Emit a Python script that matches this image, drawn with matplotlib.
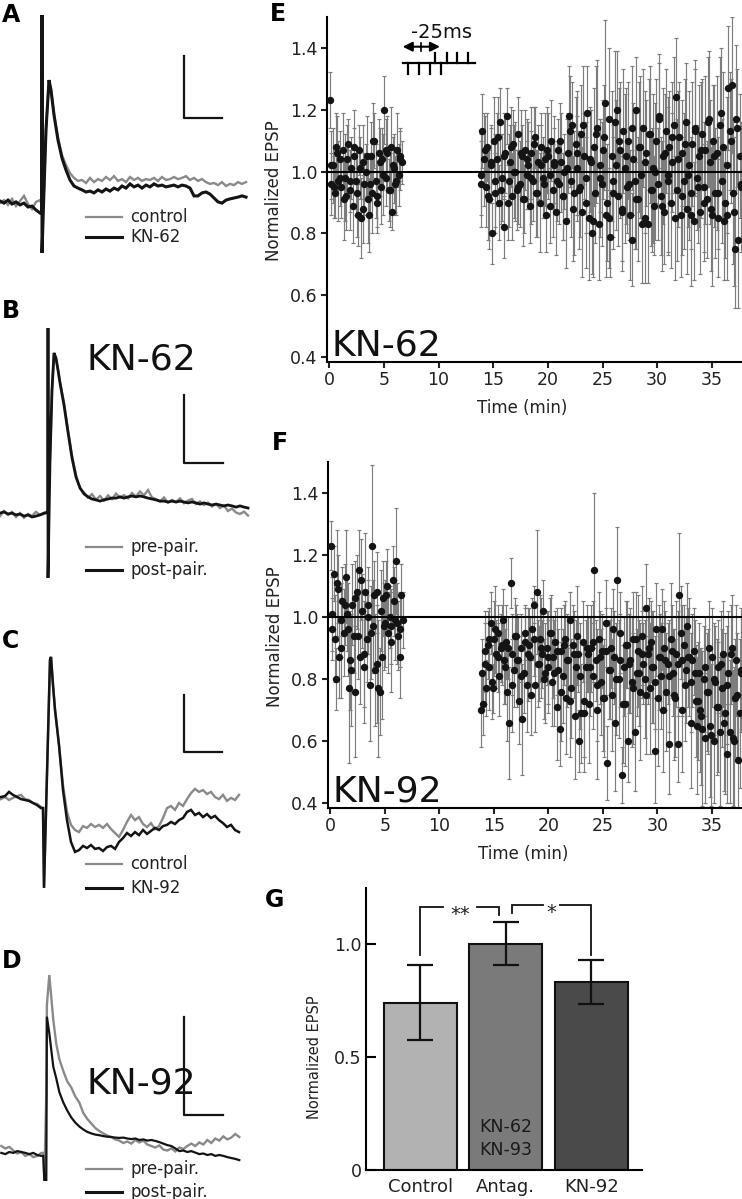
import numpy as np
import matplotlib
matplotlib.use('Agg')
import matplotlib.pyplot as plt
from matplotlib.lines import Line2D

plt.rcParams['font.family'] = 'DejaVu Sans'

W, H = 742, 1199

# ---------------- A-D: example EPSP traces (ms, mV above baseline) ----------------
A_T = list(range(-21, 0, 2)) + [0, 0, 0, 1, 2, 3.5, 4.5, 6] + list(range(8, 104, 2))
A_GRAY = [-0.07, 0.03, -0.13, 0.07, -0.17, 0.00, 0.17, -0.10, -0.27, -0.03, 0.03,
          -0.13, -0.13, -0.13,
          0.37, 2.37, 4.03, 3.70, 2.90,
          2.10, 1.53, 1.20, 0.93, 0.77, 0.67, 0.70, 0.60, 0.77, 0.63,
          0.73, 0.67, 0.80, 0.70, 0.83, 0.67, 0.73, 0.63, 0.80, 0.70,
          0.77, 0.67, 0.73, 0.70, 0.77, 0.67, 0.80, 0.70, 0.73, 0.80,
          0.73, 0.77, 0.83, 0.70, 0.77, 0.67, 0.73, 0.63, 0.57, 0.60,
          0.53, 0.63, 0.50, 0.57, 0.53, 0.63, 0.57, 0.63]
A_BLACK = [0.00, -0.07, 0.03, -0.10, -0.03, -0.13, -0.07, -0.20, -0.17, -0.30, -0.40,
           -0.37, 6.20, -1.73,
           0.37, 2.37, 4.03, 3.70, 2.87,
           2.03, 1.43, 1.03, 0.70, 0.50, 0.43, 0.37, 0.30, 0.33, 0.27,
           0.37, 0.30, 0.40, 0.33, 0.43, 0.37, 0.50, 0.43, 0.57, 0.47,
           0.53, 0.43, 0.53, 0.47, 0.57, 0.50, 0.53, 0.47, 0.50, 0.53,
           0.47, 0.53, 0.50, 0.43, 0.17, 0.17, 0.27, 0.30, 0.23, 0.10,
           -0.03, -0.07, 0.03, 0.07, 0.10, 0.13, 0.17, 0.13]

B_T = list(range(-24, 0, 2)) + [0, 0, 0, 1, 2, 3, 4, 5, 6] + list(range(8, 102, 2))
B_GRAY = [-0.07, 0.10, -0.03, 0.07, -0.10, 0.03, -0.13, 0.00, -0.07, 0.07, -0.03, 0.00,
          0.03, 0.03, 0.03,
          1.80, 4.13, 5.30, 5.15, 4.80, 4.40,
          3.70, 2.80, 1.95, 1.30, 0.85, 0.72, 0.55, 0.66, 0.48, 0.60,
          0.45, 0.62, 0.50, 0.68, 0.55, 0.63, 0.52, 0.70, 0.58, 0.75,
          0.62, 0.80, 0.55, 0.50, 0.42, 0.55, 0.38, 0.47, 0.40, 0.52,
          0.36, 0.45, 0.50, 0.33, 0.42, 0.30, 0.38, 0.25, 0.33, 0.20,
          0.28, 0.10, 0.18, 0.05, 0.00, 0.08, -0.05]
B_BLACK = [0.03, 0.07, 0.00, 0.03, -0.03, 0.00, -0.07, -0.03, -0.10, -0.07, -0.03, 0.03,
           0.07, 6.20, -2.13,
           1.80, 4.13, 5.37, 5.20, 4.80, 4.37,
           3.63, 2.73, 1.87, 1.23, 0.87, 0.67, 0.57, 0.50, 0.47, 0.43,
           0.47, 0.50, 0.53, 0.53, 0.57, 0.53, 0.57, 0.60, 0.57, 0.60,
           0.57, 0.53, 0.50, 0.47, 0.43, 0.43, 0.40, 0.43, 0.40, 0.43,
           0.40, 0.37, 0.40, 0.37, 0.33, 0.37, 0.33, 0.30, 0.33, 0.30,
           0.27, 0.30, 0.27, 0.23, 0.27, 0.23, 0.20]

C_T = list(range(-21, 0, 2)) + [0, 0.5, 3.5, 4, 5, 6] + list(range(8, 100, 2))
C_GRAY = [0.03, 0.10, 0.00, 0.07, 0.13, 0.17, 0.03, 0.00, -0.10, -0.13, -0.23,
          -0.27, -2.93, 4.67, 4.77, 3.85, 3.05,
          1.83, 0.50, -0.40, -0.83, -1.00, -1.07, -0.87, -0.93, -0.80, -0.90,
          -0.83, -0.93, -0.80, -0.97, -1.10, -1.23, -1.00, -0.73, -0.50, -0.67,
          -0.57, -0.80, -0.90, -0.77, -0.97, -0.87, -0.60, -0.27, -0.20, -0.33,
          -0.10, -0.20, 0.03, 0.23, 0.37, 0.27, 0.33, 0.20, 0.27, 0.10,
          0.03, 0.17, -0.03, 0.07, 0.00, 0.17]
C_BLACK = [0.10, 0.13, 0.27, 0.17, 0.10, 0.03, 0.00, -0.03, -0.10, -0.17, -0.27,
           -0.27, -2.93, 4.67, 4.77, 3.83, 3.00,
           1.83, 0.33, -0.67, -1.40, -1.73, -1.67, -1.53, -1.60, -1.50, -1.63,
           -1.60, -1.70, -1.57, -1.53, -1.63, -1.40, -1.27, -1.10, -1.20, -1.07,
           -1.17, -1.00, -1.13, -1.03, -0.93, -1.00, -0.87, -0.83, -0.73, -0.80,
           -0.67, -0.60, -0.40, -0.33, -0.50, -0.43, -0.57, -0.47, -0.60, -0.53,
           -0.67, -0.77, -0.90, -0.83, -1.00, -1.07]

D_T = list(range(-21, 0, 2)) + [0, 0.5, 1.5, 1.8, 3, 5, 6.5] + list(range(8, 100, 2))
D_GRAY = [0.30, 0.22, 0.27, 0.15, 0.05, 0.10, -0.03, 0.03, -0.07, -0.03, 0.07,
          0.07, -0.83, 2.00, 5.00, 6.00, 4.50, 3.70,
          3.20, 2.80, 2.45, 2.25, 1.95, 1.75, 1.40, 1.20, 1.05, 0.90,
          0.80, 0.72, 0.65, 0.60, 0.52, 0.48, 0.40, 0.45, 0.38, 0.50,
          0.42, 0.48, 0.35, 0.30, 0.25, 0.32, 0.18, 0.15, 0.22, 0.12,
          0.25, 0.20, 0.30, 0.38, 0.30, 0.42, 0.35, 0.50, 0.40, 0.55,
          0.48, 0.62, 0.52, 0.58, 0.70, 0.60]
D_BLACK = [0.07, 0.03, 0.10, 0.07, 0.13, 0.10, 0.07, 0.03, 0.07, 0.00, -0.03,
           -0.03, -0.83, -0.83, 4.61, 4.06, 2.94, 2.55,
           2.10, 1.75, 1.48, 1.25, 1.08, 0.95, 0.85, 0.77, 0.72, 0.68,
           0.66, 0.63, 0.61, 0.60, 0.58, 0.57, 0.58, 0.55, 0.53, 0.55,
           0.50, 0.52, 0.48, 0.50, 0.47, 0.43, 0.38, 0.33, 0.30, 0.22,
           0.13, 0.15, 0.10, 0.13, 0.08, 0.03, 0.05, 0.00, 0.03, -0.03,
           0.00, -0.03, -0.07, -0.10, -0.13, -0.17]

# ---------------- E, F: normalized EPSP time course ----------------
# two interleaved sets of sweeps; (start min, interval min)
EARLY_A = (0.05, 0.15)
LATE_A = (13.85, 0.15)
EARLY_B = (0.125, 0.3)
LATE_B = (13.925, 0.3)

E_EARLY = [1.23, 0.96, 1.02, 0.93, 1.08, 0.97, 1.04, 0.95, 1.07, 0.98,
           0.92, 1.09, 0.94, 1.01, 0.89, 1.05, 0.97, 0.86, 1.07, 0.85,
           1.03, 0.96, 1.00, 0.91, 0.86, 1.05, 0.93, 1.10, 0.97, 0.90,
           1.06, 0.95, 1.04, 1.20, 0.98, 1.06, 0.94, 1.08, 0.87, 1.01,
           0.96, 1.07, 0.99, 1.05, 1.03]
E_EARLY_ERR = [0.09, 0.10, 0.12, 0.08, 0.11, 0.13, 0.09, 0.10, 0.12, 0.14,
               0.11, 0.08, 0.13, 0.10, 0.12, 0.09, 0.11, 0.10, 0.08, 0.13,
               0.12, 0.10, 0.09, 0.14, 0.12, 0.11, 0.13, 0.09, 0.12, 0.10,
               0.11, 0.12, 0.10, 0.11, 0.09, 0.12, 0.10, 0.13, 0.06, 0.11,
               0.09, 0.12, 0.10, 0.08, 0.07]
E_EARLY2 = [1.02, 0.95, 1.06, 0.98, 0.91, 1.04, 0.97, 1.08, 0.93, 1.01, 0.88,
            1.05, 0.96, 1.10, 0.92, 1.03, 0.99, 1.07, 0.94, 1.02, 0.97, 1.04]
E_EARLY2_ERR = [0.11, 0.10, 0.12, 0.09, 0.13, 0.11, 0.10, 0.12, 0.14, 0.10, 0.11,
                0.13, 0.09, 0.12, 0.10, 0.11, 0.13, 0.10, 0.12, 0.09, 0.11, 0.10]
E_LATE = [0.96, 1.13, 1.04, 0.95, 1.08, 0.91, 1.02, 0.80, 1.10, 0.93,
          1.04, 0.90, 1.16, 0.98, 0.82, 1.06, 1.18, 0.97, 1.03, 0.92,
          1.09, 1.00, 0.94, 1.12, 0.96, 1.05, 0.91, 1.07, 0.99, 1.02,
          0.89, 1.06, 0.97, 1.11, 0.93, 1.03, 0.90, 1.08, 0.98, 1.04,
          0.86, 1.05, 0.99, 1.10, 0.94, 1.02, 0.87, 1.07, 0.96, 1.03,
          0.92, 1.00, 0.84, 1.06, 1.18, 0.97, 1.15, 0.93, 1.09, 1.01,
          0.94, 1.12, 0.87, 1.05, 0.98, 1.19, 0.85, 1.03, 0.80, 1.08,
          0.93, 1.14, 0.83, 1.02, 0.96, 1.11, 1.22, 0.90, 0.85, 0.79,
          1.05, 0.97, 1.16, 1.20, 0.92, 1.07, 0.88, 1.13, 1.01, 0.95,
          1.10, 0.86, 0.78, 1.04, 0.97, 1.20, 0.91, 1.08, 0.99, 1.14,
          0.85, 1.06, 0.83, 1.12, 0.94, 1.01, 0.89, 1.10, 0.96, 1.17,
          0.92, 1.05, 0.87, 1.13, 0.99, 1.08, 0.90, 1.03, 1.15, 1.24,
          0.94, 1.11, 0.86, 1.06, 0.97, 1.16, 0.88, 1.02, 0.93, 1.09,
          0.84, 1.14, 0.98, 1.05, 0.87, 1.12, 0.95, 1.07, 0.91, 1.17,
          1.03, 0.86, 1.10, 0.93, 1.06, 0.85, 1.15, 0.97, 1.08, 0.90,
          0.86, 1.27, 1.13, 1.28, 0.93, 0.75, 1.17, 0.78, 1.05, 0.96]
E_LATE_ERR = [0.14, 0.12, 0.15, 0.13, 0.11, 0.16, 0.12, 0.10, 0.14, 0.13,
              0.15, 0.12, 0.11, 0.14, 0.10, 0.13, 0.09, 0.15, 0.12, 0.14,
              0.11, 0.16, 0.13, 0.12, 0.14, 0.10, 0.15, 0.13, 0.11, 0.14,
              0.12, 0.15, 0.13, 0.10, 0.14, 0.12, 0.16, 0.11, 0.13, 0.15,
              0.12, 0.14, 0.11, 0.13, 0.15, 0.12, 0.14, 0.10, 0.13, 0.16,
              0.14, 0.12, 0.15, 0.13, 0.16, 0.18, 0.14, 0.20, 0.15, 0.17,
              0.19, 0.16, 0.21, 0.14, 0.18, 0.15, 0.20, 0.17, 0.13, 0.19,
              0.16, 0.22, 0.18, 0.15, 0.20, 0.17, 0.27, 0.19, 0.16, 0.13,
              0.21, 0.18, 0.23, 0.19, 0.16, 0.22, 0.17, 0.20, 0.24, 0.15,
              0.19, 0.21, 0.15, 0.18, 0.22, 0.17, 0.20, 0.23, 0.16, 0.19,
              0.21, 0.17, 0.19, 0.22, 0.18, 0.24, 0.16, 0.20, 0.18, 0.21,
              0.19, 0.22, 0.17, 0.20, 0.25, 0.18, 0.21, 0.16, 0.22, 0.19,
              0.23, 0.18, 0.20, 0.17, 0.22, 0.19, 0.21, 0.24, 0.18, 0.20,
              0.19, 0.22, 0.17, 0.23, 0.20, 0.18, 0.21, 0.24, 0.19, 0.22,
              0.20, 0.23, 0.18, 0.21, 0.25, 0.19, 0.22, 0.20, 0.24, 0.18,
              0.21, 0.20, 0.19, 0.22, 0.23, 0.19, 0.24, 0.22, 0.20, 0.18]
E_LATE2 = [0.99, 1.07, 0.92, 1.03, 0.97, 1.11, 0.94, 1.05, 0.90, 1.08,
           1.00, 0.95, 1.06, 0.91, 1.04, 0.98, 1.09, 0.93, 1.02, 0.96,
           1.07, 0.89, 1.03, 0.97, 1.10, 0.92, 1.01, 1.13, 0.88, 1.06,
           0.95, 1.15, 0.90, 1.04, 0.84, 1.12, 0.98, 1.07, 0.86, 1.17,
           0.93, 1.02, 1.10, 0.87, 1.05, 0.96, 1.14, 0.91, 1.08, 0.83,
           1.03, 1.12, 0.94, 1.00, 1.18, 0.89, 1.06, 0.97, 1.11, 0.85,
           1.04, 0.92, 1.09, 0.99, 0.86, 1.13, 0.95, 1.07, 0.90, 1.16,
           0.88, 1.05, 0.93, 1.19, 0.84, 1.02, 1.10, 0.87, 1.14, 0.95]
E_LATE2_ERR = [0.13, 0.11, 0.14, 0.12, 0.15, 0.13, 0.11, 0.14, 0.12, 0.13,
               0.15, 0.12, 0.14, 0.11, 0.13, 0.15, 0.12, 0.14, 0.13, 0.11,
               0.14, 0.12, 0.15, 0.13, 0.12, 0.14, 0.16, 0.18, 0.17, 0.20,
               0.16, 0.19, 0.21, 0.17, 0.18, 0.22, 0.19, 0.16, 0.20, 0.23,
               0.18, 0.21, 0.17, 0.19, 0.22, 0.18, 0.20, 0.16, 0.21, 0.19,
               0.23, 0.18, 0.20, 0.22, 0.17, 0.21, 0.19, 0.24, 0.18, 0.20,
               0.22, 0.19, 0.21, 0.17, 0.23, 0.20, 0.18, 0.22, 0.19, 0.21,
               0.20, 0.23, 0.18, 0.21, 0.19, 0.22, 0.20, 0.24, 0.19, 0.21]

F_EARLY = [1.23, 0.96, 1.14, 0.80, 1.11, 0.87, 0.99, 1.05, 0.95, 1.13,
           1.01, 0.77, 0.86, 1.04, 0.94, 0.76, 1.08, 1.15, 0.87, 1.02,
           0.84, 1.08, 0.93, 1.04, 0.78, 1.23, 0.97, 0.83, 1.08, 0.77,
           0.76, 0.87, 1.06, 0.98, 1.07, 0.95, 1.00, 0.97, 1.12, 0.99,
           1.18, 0.94, 0.87, 1.07, 0.99]
F_EARLY_ERR = [0.08, 0.10, 0.09, 0.10, 0.17, 0.13, 0.12, 0.11, 0.14, 0.15,
               0.12, 0.24, 0.16, 0.13, 0.12, 0.21, 0.12, 0.13, 0.15, 0.12,
               0.18, 0.19, 0.14, 0.12, 0.18, 0.26, 0.15, 0.18, 0.13, 0.22,
               0.14, 0.20, 0.12, 0.14, 0.11, 0.13, 0.10, 0.12, 0.11, 0.13,
               0.17, 0.11, 0.13, 0.10, 0.09]
F_EARLY2 = [1.01, 0.93, 1.09, 0.90, 1.04, 0.96, 0.83, 1.06, 0.94, 1.12, 0.88,
            1.00, 0.95, 1.07, 0.85, 1.02, 0.97, 1.10, 0.92, 1.05, 0.98, 0.96]
F_EARLY2_ERR = [0.12, 0.14, 0.11, 0.16, 0.13, 0.15, 0.18, 0.12, 0.14, 0.13, 0.17,
                0.12, 0.15, 0.11, 0.19, 0.13, 0.14, 0.12, 0.16, 0.11, 0.13, 0.12]
F_LATE = [0.70, 0.72, 0.85, 0.77, 0.91, 0.84, 0.98, 0.77, 0.93, 0.88,
          0.95, 0.81, 0.90, 0.99, 0.86, 0.92, 0.76, 0.66, 1.11, 0.88,
          0.83, 0.94, 0.86, 0.73, 0.90, 0.67, 0.82, 0.95, 0.78, 0.91,
          0.87, 0.96, 1.04, 0.78, 1.08, 0.85, 0.93, 0.88, 1.02, 0.82,
          0.90, 0.84, 0.95, 0.79, 0.87, 0.92, 0.71, 0.83, 0.64, 0.89,
          0.81, 0.93, 0.74, 0.86, 0.99, 0.77, 0.91, 0.68, 0.84, 0.88,
          0.60, 0.69, 0.92, 0.73, 0.84, 0.88, 0.72, 0.90, 0.81, 1.15,
          0.86, 0.70, 0.93, 0.79, 0.89, 0.74, 0.98, 0.53, 0.83, 0.90,
          0.75, 0.87, 0.66, 1.12, 0.80, 0.95, 0.49, 0.84, 0.72, 0.91,
          0.60, 0.86, 0.79, 0.93, 0.63, 0.82, 0.89, 0.76, 0.94, 0.85,
          0.80, 1.03, 0.88, 0.77, 0.92, 0.84, 0.57, 0.96, 0.74, 0.87,
          0.81, 0.70, 0.90, 0.76, 0.85, 0.59, 0.93, 0.82, 0.75, 0.88,
          0.59, 1.07, 0.95, 0.86, 0.91, 0.83, 0.97, 0.87, 0.79, 0.86,
          0.89, 0.73, 0.65, 0.82, 0.70, 0.64, 0.80, 0.61, 0.76, 0.90,
          0.65, 0.87, 0.60, 0.79, 0.71, 0.84, 0.63, 0.77, 0.88, 0.69,
          0.56, 0.82, 0.63, 0.90, 0.61, 0.74, 0.86, 0.54, 0.69, 0.83]
F_LATE_ERR = [0.12, 0.10, 0.13, 0.09, 0.11, 0.14, 0.10, 0.08, 0.12, 0.11,
              0.09, 0.13, 0.11, 0.10, 0.14, 0.12, 0.16, 0.18, 0.08, 0.13,
              0.12, 0.10, 0.15, 0.14, 0.11, 0.18, 0.13, 0.09, 0.15, 0.12,
              0.13, 0.10, 0.06, 0.15, 0.20, 0.12, 0.14, 0.11, 0.10, 0.16,
              0.12, 0.15, 0.11, 0.14, 0.13, 0.10, 0.17, 0.13, 0.12, 0.14,
              0.15, 0.12, 0.18, 0.14, 0.09, 0.16, 0.13, 0.20, 0.15, 0.12,
              0.10, 0.16, 0.13, 0.18, 0.15, 0.12, 0.19, 0.14, 0.17, 0.25,
              0.13, 0.22, 0.15, 0.17, 0.12, 0.19, 0.14, 0.12, 0.16, 0.13,
              0.18, 0.15, 0.22, 0.17, 0.19, 0.13, 0.09, 0.16, 0.20, 0.14,
              0.13, 0.17, 0.21, 0.15, 0.19, 0.14, 0.18, 0.22, 0.16, 0.13,
              0.19, 0.14, 0.16, 0.21, 0.13, 0.18, 0.17, 0.15, 0.22, 0.14,
              0.17, 0.20, 0.15, 0.19, 0.13, 0.16, 0.18, 0.14, 0.21, 0.17,
              0.12, 0.20, 0.15, 0.18, 0.13, 0.17, 0.14, 0.19, 0.16, 0.15,
              0.14, 0.18, 0.22, 0.16, 0.20, 0.25, 0.17, 0.21, 0.19, 0.15,
              0.23, 0.16, 0.20, 0.18, 0.22, 0.15, 0.24, 0.19, 0.17, 0.26,
              0.16, 0.20, 0.23, 0.17, 0.22, 0.19, 0.18, 0.16, 0.24, 0.20]
F_LATE2 = [0.82, 0.89, 0.93, 0.79, 0.96, 0.87, 0.91, 0.84, 0.90, 0.78,
           0.94, 0.86, 0.81, 0.92, 0.88, 0.75, 0.93, 0.85, 0.90, 0.80,
           0.87, 0.95, 0.82, 0.89, 0.76, 0.91, 0.86, 0.73, 0.88, 0.94,
           0.81, 0.69, 0.90, 0.84, 0.92, 0.78, 0.87, 0.74, 0.89, 0.83,
           0.96, 0.80, 0.86, 0.72, 0.91, 0.85, 0.77, 0.93, 0.82, 0.88,
           0.75, 0.90, 0.84, 0.79, 0.87, 0.96, 0.86, 0.81, 0.89, 0.74,
           0.85, 0.70, 0.78, 0.87, 0.66, 0.82, 0.73, 0.68, 0.84, 0.76,
           0.62, 0.80, 0.71, 0.85, 0.66, 0.78, 0.88, 0.60, 0.75, 0.82]
F_LATE2_ERR = [0.11, 0.13, 0.10, 0.12, 0.14, 0.11, 0.13, 0.12, 0.10, 0.15,
               0.12, 0.14, 0.13, 0.11, 0.15, 0.13, 0.12, 0.14, 0.16, 0.13,
               0.15, 0.12, 0.17, 0.14, 0.16, 0.13, 0.15, 0.18, 0.14, 0.16,
               0.17, 0.19, 0.14, 0.16, 0.13, 0.18, 0.15, 0.17, 0.14, 0.16,
               0.13, 0.18, 0.15, 0.19, 0.14, 0.16, 0.18, 0.15, 0.17, 0.14,
               0.19, 0.16, 0.18, 0.15, 0.17, 0.13, 0.16, 0.18, 0.15, 0.19,
               0.17, 0.20, 0.18, 0.16, 0.21, 0.17, 0.19, 0.22, 0.16, 0.20,
               0.23, 0.18, 0.21, 0.17, 0.22, 0.19, 0.16, 0.24, 0.20, 0.18]

# ---------------- G: summary bars ----------------
G_GROUPS = ['Control', 'Antag.', 'KN-92']
G_MEANS = [0.74, 1.00, 0.83]
G_SEM = [0.167, 0.095, 0.097]
G_COLORS = ['#b2b2b2', '#7a7a7a', '#4a4a4a']
G_SIG = [(0, 1, '**'), (1, 2, '*')]

GRAY = '#8a8a8a'
BLACK = '#141414'

fig = plt.figure(figsize=(W / 100, H / 100), dpi=100)


def add_ax(x0, y0, x1, y1):
    return fig.add_axes([x0 / W, 1 - y1 / H, (x1 - x0) / W, (y1 - y0) / H])


def fline(xs, ys, **kw):
    fig.add_artist(Line2D([x / W for x in xs], [1 - y / H for y in ys],
                          transform=fig.transFigure, **kw))


def ftext(x, y, s, **kw):
    fig.text(x / W, 1 - y / H, s, **kw)


# trace panels: box in pixels, stimulus x, baseline y
PX_PER_MS = 2.0
PX_PER_MV = 30.0
traces = [
    ('A', (0, 0, 250, 260), 42, 201, A_T, A_GRAY, A_BLACK, 1.7, 2.2,
     ('control', 'KN-62'), (216.7, 237.3), (184, 56, 118.3, 221.7), None, 22),
    ('B', (0, 300, 250, 585), 48, 514, B_T, B_GRAY, B_BLACK, 1.7, 2.0,
     ('pre-pair.', 'post-pair.'), (547.3, 570), (184, 395, 462.7, 222.7), (369.3, 'KN-62'), 318),
    ('C', (0, 630, 250, 895), 43, 800, C_T, C_GRAY, C_BLACK, 1.7, 1.8,
     ('control', 'KN-92'), (864, 888), (184, 695, 751.7, 221.7), None, 648),
    ('D', (0, 945, 250, 1199), 43.3, 1155, D_T, D_GRAY, D_BLACK, 1.7, 1.6,
     ('pre-pair.', 'post-pair.'), (1169.3, 1191.7), (184, 1016.7, 1115, 222.7), (1093.3, 'KN-92'), 968),
]

for (letter, box, x_art, y_base, t, gray, black, glw, blw,
     labels, leg_y, bar, title, let_y) in traces:
    x0, y0, x1, y1 = box
    ax = add_ax(x0, y0, x1, y1)
    ax.set_xlim((x0 - x_art) / PX_PER_MS, (x1 - x_art) / PX_PER_MS)
    ax.set_ylim((y_base - y1) / PX_PER_MV, (y_base - y0) / PX_PER_MV)
    ax.axis('off')
    ax.plot(t, gray, color=GRAY, lw=glw, solid_joinstyle='miter')
    ax.plot(t, black, color=BLACK, lw=blw, solid_joinstyle='miter')
    # scale bar
    bx, btop, bcorner, bright = bar
    fline([bx, bx, bright], [btop, bcorner, bcorner], color=BLACK, lw=1.6)
    # legend
    fline([86, 121.7], [leg_y[0], leg_y[0]], color=GRAY, lw=1.6)
    fline([86, 121.7], [leg_y[1], leg_y[1]], color=BLACK, lw=2.2)
    ftext(130, leg_y[0], labels[0], fontsize=12, va='center', color='#222222')
    ftext(130, leg_y[1], labels[1], fontsize=12, va='center', color='#222222')
    if title:
        ftext(86, title[0], title[1], fontsize=26, va='baseline', color='#111111')
    ftext(2, let_y, letter, fontsize=17, fontweight='bold', va='baseline')


def course_panel(box, sets, name, letter, let_xy):
    ax = add_ax(*box)
    for (start, step), v, e in sets:
        t = start + step * np.arange(len(v))
        ax.errorbar(t, v, yerr=e, fmt='none', ecolor='#7d7d7d', elinewidth=0.85,
                    capsize=1.6, capthick=0.85, zorder=2)
    for (start, step), v, e in sets:
        t = start + step * np.arange(len(v))
        ax.plot(t, v, 'o', color=BLACK, ms=5.3, mew=0, zorder=3)
    ax.axhline(1.0, color='black', lw=1.5, zorder=4)
    ax.set_xlim(-0.21, 37.76)
    ax.set_ylim(0.386, 1.5)
    ax.set_xticks([0, 5, 10, 15, 20, 25, 30, 35])
    ax.set_yticks([0.4, 0.6, 0.8, 1.0, 1.2, 1.4])
    ax.set_yticklabels(['0.4', '0.6', '0.8', '1.0', '1.2', '1.4'])
    for s in ('top', 'right'):
        ax.spines[s].set_visible(False)
    for s in ('left', 'bottom'):
        ax.spines[s].set_linewidth(1.5)
    ax.tick_params(direction='out', length=4, width=1.5, labelsize=12.5, pad=3,
                   colors='#222222')
    ax.set_ylabel('Normalized EPSP', fontsize=12, color='#222222')
    ax.set_xlabel('Time (min)', fontsize=12, color='#222222')
    ax.yaxis.set_label_coords(-0.107, 0.495)
    ax.xaxis.set_label_coords(0.471, -0.108)
    ax.text(0.012, 0.018, name, transform=ax.transAxes, fontsize=26,
            va='baseline', color='#111111')
    ftext(let_xy[0], let_xy[1], letter, fontsize=17, fontweight='bold', va='baseline')
    return ax


axe = course_panel((327, 16.7, 742, 361.7),
                   [(EARLY_A, E_EARLY, E_EARLY_ERR), (EARLY_B, E_EARLY2, E_EARLY2_ERR),
                    (LATE_A, E_LATE, E_LATE_ERR), (LATE_B, E_LATE2, E_LATE2_ERR)],
                   'KN-62', 'E', (270, 21))
course_panel((328, 461.7, 742, 807.7),
             [(EARLY_A, F_EARLY, F_EARLY_ERR), (EARLY_B, F_EARLY2, F_EARLY2_ERR),
              (LATE_A, F_LATE, F_LATE_ERR), (LATE_B, F_LATE2, F_LATE2_ERR)],
             'KN-92', 'F', (272, 450))

# pairing protocol schematic in E
ftext(441, 32, '-25ms', fontsize=14, ha='center', va='center', color='#111111')
for tip, tail in ((402.7, 421), (440, 420.4)):
    axe.annotate('', xy=(tip / W, 1 - 46.7 / H), xytext=(tail / W, 1 - 46.7 / H),
                 xycoords='figure fraction', textcoords='figure fraction',
                 arrowprops=dict(arrowstyle='-|>', color='black', lw=1.5,
                                 mutation_scale=14, shrinkA=0, shrinkB=0))
fline([420.7, 420.7], [43, 51], color='black', lw=1.2)
fline([402.7, 475], [63.3, 63.3], color='black', lw=1.6)
for xt in (408.3, 419, 430, 440.7):
    fline([xt, xt], [63.3, 74], color='black', lw=1.6)
for xt in (435, 446.7, 457.3, 468.3):
    fline([xt, xt], [53.3, 63.3], color='black', lw=1.6)

# ---------------- G ----------------
axg = add_ax(366, 888.3, 641.7, 1170)
xg = np.arange(len(G_GROUPS))
axg.bar(xg, G_MEANS, width=0.85, color=G_COLORS, edgecolor='#111111', linewidth=1.5, zorder=2)
axg.errorbar(xg, G_MEANS, yerr=G_SEM, fmt='none', ecolor='#111111', elinewidth=1.6,
             capsize=9.5, capthick=1.6, zorder=3)
axg.set_xlim(-0.635, 2.59)
axg.set_ylim(0, 1.246)
axg.set_xticks(xg)
axg.set_xticklabels(G_GROUPS, fontsize=13, color='#222222')
axg.set_yticks([0, 0.5, 1.0])
axg.set_yticklabels(['0', '0.5', '1.0'], fontsize=12.5, color='#222222')
for s in ('top', 'right'):
    axg.spines[s].set_visible(False)
for s in ('left', 'bottom'):
    axg.spines[s].set_linewidth(1.5)
axg.tick_params(axis='y', direction='in', length=7, width=1.5, pad=3)
axg.tick_params(axis='x', length=0, pad=6)
axg.set_ylabel('Normalized EPSP', fontsize=10.5, color='#222222')
axg.yaxis.set_label_coords(-0.161, 0.402)
axg.text(1, 0.19, 'KN-62', ha='center', va='center', fontsize=12.5, color='#1a1a1a')
axg.text(1, 0.088, 'KN-93', ha='center', va='center', fontsize=12.5, color='#1a1a1a')

# significance brackets
bracket_top = [1.165, 1.174]
bracket_feet = [(0.951, 1.128), (1.136, 0.951)]
gap_half = [0.2, 0.095]
for k, (a, b, mark) in enumerate(G_SIG):
    xa = a + (0.069 if a == 1 else 0)
    xb = b - (0.076 if b == 1 else 0)
    xm = (xa + xb) / 2
    yt = bracket_top[k]
    fa, fb = bracket_feet[k]
    axg.plot([xa, xa, xm - gap_half[k]], [fa, yt, yt], color='#111111', lw=1.3,
             clip_on=False, solid_joinstyle='miter')
    axg.plot([xm + gap_half[k], xb, xb], [yt, yt, fb], color='#111111', lw=1.3,
             clip_on=False, solid_joinstyle='miter')
    axg.text(xm, yt - 0.035, mark, ha='center', va='center', fontsize=14, color='#222222')

ftext(265, 907, 'G', fontsize=17, fontweight='bold', va='baseline')

fig.savefig('out.png', dpi=100)
